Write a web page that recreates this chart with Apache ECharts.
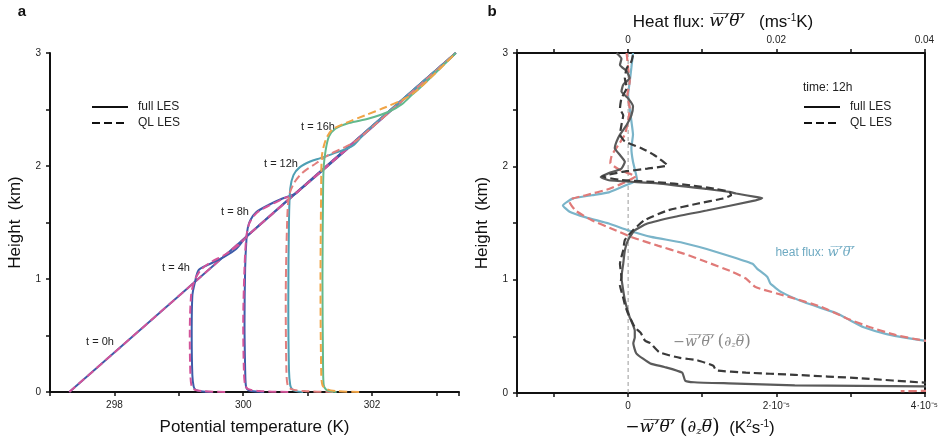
<!DOCTYPE html>
<html><head><meta charset="utf-8">
<script src="https://cdn.jsdelivr.net/npm/echarts@6/dist/echarts.min.js"></script>
<style>html,body{margin:0;padding:0;background:#fff}#c{width:941px;height:441px}</style>
</head><body><div id="c"></div>
<script>
// ---------- Panel a: potential temperature profiles [theta (K), height (km)] ----------
const profile0h = [[297.3,0],[303.3,3]];
const full4h = [[299.52,0],[299.34,0.006],[299.26,0.02],[299.23,0.05],[299.21,0.15],[299.2,0.5],[299.21,0.85],[299.25,0.97],[299.31,1.08],[299.47,1.13],[299.68,1.19],[299.88,1.26],[300.06,1.38],[303.3,3]];
const ql4h   = [[299.72,0],[299.4,0.006],[299.25,0.02],[299.2,0.05],[299.18,0.15],[299.17,0.5],[299.19,0.85],[299.24,0.98],[299.34,1.08],[299.5,1.15],[299.7,1.21],[299.93,1.3],[300.1,1.4],[303.3,3]];
const full8h = [[300.32,0],[300.12,0.008],[300.06,0.025],[300.04,0.06],[300.03,0.2],[300.02,0.6],[300.03,1.1],[300.05,1.35],[300.07,1.45],[300.11,1.52],[300.2,1.59],[300.4,1.657],[300.6,1.71],[300.82,1.76],[303.3,3]];
const ql8h   = [[300.7,0],[300.25,0.008],[300.08,0.025],[300.03,0.06],[300.01,0.2],[300.0,0.6],[300.02,1.1],[300.05,1.38],[300.1,1.5],[300.22,1.59],[300.42,1.655],[300.62,1.71],[300.84,1.77],[303.3,3]];
const full12h = [[300.93,0],[300.82,0.008],[300.76,0.025],[300.73,0.06],[300.71,0.2],[300.7,0.8],[300.71,1.5],[300.73,1.8],[300.78,1.92],[300.88,1.99],[301.04,2.04],[301.2,2.07],[301.45,2.12],[301.7,2.18],[301.9,2.3],[303.3,3]];
const ql12h   = [[301.4,0],[300.95,0.008],[300.75,0.025],[300.69,0.06],[300.67,0.2],[300.66,0.8],[300.68,1.47],[300.71,1.73],[300.79,1.85],[300.92,1.94],[301.12,2.02],[301.33,2.1],[301.59,2.17],[301.79,2.24],[303.3,3]];
const full16h = [[301.45,0],[301.33,0.008],[301.28,0.025],[301.25,0.06],[301.24,0.2],[301.23,1.0],[301.24,1.8],[301.25,2.0],[301.28,2.14],[301.33,2.26],[301.43,2.33],[301.64,2.38],[301.95,2.42],[302.26,2.48],[302.47,2.55],[302.62,2.63],[302.76,2.7],[303.3,3]];
const ql16h   = [[301.8,0],[301.45,0.008],[301.3,0.025],[301.23,0.06],[301.21,0.2],[301.2,1.0],[301.21,1.8],[301.22,2.08],[301.28,2.23],[301.38,2.32],[301.59,2.38],[301.9,2.45],[302.21,2.52],[302.52,2.6],[302.72,2.68],[303.3,3]];
const timeLabels = ['t = 0h','t = 4h','t = 8h','t = 12h','t = 16h'];

// ---------- Panel b: heat flux [w'theta' (m s^-1 K), height (km)] ----------
const heatFluxFull = [[0.00066,3.0],[0.00044,2.87],[0.00022,2.75],[0,2.63],[0.00022,2.51],[0.00044,2.40],[0.00066,2.28],[0.00044,2.16],[0.00066,2.04],[0.0011,1.92],[0.0012,1.88],[-0.0004,1.83],[-0.0026,1.77],[-0.0049,1.745],[-0.0075,1.715],[-0.0088,1.655],[-0.0079,1.60],[-0.0057,1.55],[-0.0026,1.495],[0,1.436],[0.0031,1.377],[0.0071,1.33],[0.0106,1.27],[0.0141,1.20],[0.0168,1.14],[0.0174,1.098],[0.0188,1.024],[0.0192,0.966],[0.0207,0.89],[0.0238,0.80],[0.0283,0.70],[0.030,0.64],[0.0318,0.58],[0.0349,0.52],[0.0397,0.465],[0.046,0.42],[0.055,0.3]];
const heatFluxQL = [[-0.0002,3.0],[0,2.87],[0.00022,2.75],[-0.0001,2.63],[0.00022,2.51],[0,2.40],[-0.00044,2.28],[-0.0013,2.19],[-0.0022,2.10],[-0.0024,2.03],[-0.0009,1.96],[0.001,1.912],[-0.0004,1.86],[-0.0026,1.80],[-0.0057,1.745],[-0.0075,1.715],[-0.0079,1.686],[-0.0071,1.61],[-0.0049,1.524],[-0.0022,1.45],[0.0004,1.377],[0.004,1.30],[0.0075,1.23],[0.0106,1.156],[0.0141,1.068],[0.0159,1.01],[0.0172,0.935],[0.0216,0.85],[0.0261,0.76],[0.0296,0.656],[0.0327,0.58],[0.0362,0.51],[0.0397,0.465],[0.048,0.4],[0.062,0.25],[0.06,0.06],[0.04,0.019],[0.0368,0.016]];
// budget term -w'theta'(dz theta), in units of 1e-5 K^2 s^-1
const budgetFull_e5 = [[-0.155,3.0],[-0.09,2.95],[-0.11,2.895],[-0.02,2.84],[0.02,2.78],[-0.066,2.72],[-0.09,2.66],[0,2.60],[0.066,2.53],[0.044,2.45],[-0.02,2.365],[-0.11,2.28],[-0.155,2.22],[-0.18,2.16],[-0.11,2.10],[-0.044,2.04],[-0.09,1.98],[-0.26,1.94],[-0.37,1.905],[-0.26,1.877],[0.40,1.85],[1.06,1.80],[1.37,1.774],[1.46,1.76],[1.72,1.73],[1.81,1.72],[1.72,1.70],[1.06,1.61],[0.62,1.553],[0.26,1.495],[0.09,1.436],[0,1.35],[-0.044,1.26],[-0.066,1.14],[-0.09,1.02],[-0.08,0.965],[-0.044,0.82],[0.02,0.67],[0.04,0.64],[0.09,0.55],[0.09,0.49],[0.07,0.44],[0.11,0.35],[0.30,0.26],[0.49,0.23],[0.73,0.18],[0.77,0.11],[0.89,0.095],[1.36,0.085],[2.25,0.068],[4.0,0.058],[5.5,0.05]];
const budgetQL_e5 = [[0.066,2.98],[0.044,2.925],[-0.02,2.865],[-0.044,2.78],[-0.02,2.69],[-0.09,2.60],[-0.11,2.51],[-0.066,2.45],[-0.09,2.365],[-0.11,2.28],[-0.044,2.22],[0.18,2.16],[0.35,2.10],[0.53,2.01],[0.26,1.98],[-0.09,1.95],[-0.35,1.91],[-0.09,1.88],[0.40,1.86],[0.84,1.833],[1.19,1.80],[1.37,1.774],[1.39,1.745],[1.28,1.716],[0.93,1.67],[0.53,1.61],[0.22,1.524],[0.066,1.436],[-0.044,1.35],[-0.066,1.26],[-0.11,1.14],[-0.09,1.02],[-0.11,0.95],[-0.07,0.85],[-0.044,0.78],[0,0.7],[0.09,0.58],[0.17,0.53],[0.23,0.46],[0.30,0.44],[0.42,0.36],[0.70,0.31],[0.93,0.29],[1.15,0.24],[1.19,0.20],[1.59,0.18],[2.25,0.16],[3.14,0.13],[4.0,0.092],[5.5,0.08]];
const zeroLine = [[0,0],[0,3]];

const SANS = 'Liberation Sans, Arial, sans-serif';
const SERIF = 'DejaVu Serif, serif';
const OL = '\u0305';
const wtheta = 'w' + OL + '\u2019' + OL + '\u03b8' + OL + '\u2019' + OL;

const chart = echarts.init(document.getElementById('c'), null, {renderer: 'canvas'});

function line(name, data, color, dashed, xi, yi, smooth, w) {
  return {
    type: 'line', name: name, data: data, xAxisIndex: xi, yAxisIndex: yi,
    showSymbol: false, symbol: 'none', smooth: smooth, clip: true, silent: true,
    lineStyle: {color: color, width: w || 2, type: dashed ? [8, 4] : 'solid'},
    itemStyle: {color: color}
  };
}
const e5 = arr => arr.map(p => [p[0] * 1e-5, p[1]]);

const axisLine = {show: true, onZero: false, lineStyle: {color: '#111', width: 2}};
const tick = {show: true, inside: false, length: 4, lineStyle: {color: '#111', width: 1.5}};
const lbl = {color: '#222', fontSize: 10, fontFamily: SANS};

const cBlue = '#3d5ba9', cMag = '#d2549a', cTeal = '#4e9fb4', cSal = '#e27f7e', cGreen = '#63b98d', cOra = '#f0a446';

const legendBase = {orient: 'vertical', padding: 0, itemWidth: 36, itemHeight: 14, itemGap: 4,
  selectedMode: false, data: ['full LES', 'QL LES'], itemStyle: {opacity: 0, borderWidth: 0},
  textStyle: {fontSize: 12, fontFamily: SANS, color: '#222', padding: [0, 0, 0, 5]}};

const option = {
  animation: false,
  backgroundColor: '#fff',
  grid: [
    {left: 50, top: 53, width: 409, height: 340},
    {left: 517, top: 53, width: 415, height: 340}
  ],
  xAxis: [
    {gridIndex: 0, type: 'value', min: 297, max: 303.35, interval: 1, position: 'bottom',
     axisLine: axisLine, axisTick: tick, splitLine: {show: false},
     axisLabel: Object.assign({}, lbl, {margin: 8, formatter: v => (Math.abs(v - Math.round(v)) < 1e-6 && Math.round(v) % 2 === 0) ? String(Math.round(v)) : ''}),
     name: 'Potential temperature (K)', nameLocation: 'middle', nameGap: 27,
     nameTextStyle: {fontSize: 17, fontFamily: SANS, color: '#111'}},
    {gridIndex: 1, type: 'value', min: -1.5e-5, max: 4e-5, minInterval: 1e-5, maxInterval: 1e-5, position: 'bottom',
     axisLine: axisLine, axisTick: tick, splitLine: {show: false},
     axisLabel: Object.assign({}, lbl, {margin: 8, formatter: v => {
        const k = Math.round(v / 1e-5);
        if (Math.abs(v - k * 1e-5) > 1e-9 || k % 2 !== 0) return '';
        return k === 0 ? '0' : k + '\u00b710\u207b\u2075';
     }})},
    {gridIndex: 1, type: 'value', min: -0.015, max: 0.04, minInterval: 0.01, maxInterval: 0.01, position: 'top',
     axisLine: axisLine, axisTick: tick, splitLine: {show: false},
     axisLabel: Object.assign({}, lbl, {margin: 8, formatter: v => {
        const k = Math.round(v / 0.01);
        if (Math.abs(v - k * 0.01) > 1e-9 || k % 2 !== 0) return '';
        return k === 0 ? '0' : (k * 0.01).toFixed(2);
     }})}
  ],
  yAxis: [
    {gridIndex: 0, type: 'value', min: 0, max: 3, interval: 0.5, position: 'left',
     axisLine: axisLine, axisTick: tick, splitLine: {show: false},
     axisLabel: Object.assign({}, lbl, {margin: 9, formatter: v => Number.isInteger(v) ? String(v) : ''}),
     name: 'Height  (km)', nameLocation: 'middle', nameGap: 26,
     nameTextStyle: {fontSize: 17, fontFamily: SANS, color: '#111'}},
    {gridIndex: 1, type: 'value', min: 0, max: 3, interval: 0.5, position: 'left',
     axisLine: axisLine, axisTick: tick, splitLine: {show: false},
     axisLabel: Object.assign({}, lbl, {margin: 9, formatter: v => Number.isInteger(v) ? String(v) : ''}),
     name: 'Height  (km)', nameLocation: 'middle', nameGap: 26,
     nameTextStyle: {fontSize: 17, fontFamily: SANS, color: '#111'}},
    {gridIndex: 1, type: 'value', min: 0, max: 3, position: 'right',
     axisLine: axisLine, axisTick: {show: false}, axisLabel: {show: false}, splitLine: {show: false}}
  ],
  legend: [
    Object.assign({}, legendBase, {left: 91, top: 101}),
    Object.assign({}, legendBase, {left: 803, top: 101})
  ],
  series: [
    // legend keys
    line('full LES', [], '#111', false, 0, 0, false, 3),
    line('QL LES', [], '#111', true, 0, 0, false, 3),
    // panel a
    line('0h full', profile0h, cBlue, false, 0, 0, false),
    line('0h QL', profile0h, cMag, true, 0, 0, false),
    line('4h full', full4h, cBlue, false, 0, 0, 0.3),
    line('4h QL', ql4h, cMag, true, 0, 0, 0.3),
    line('8h full', full8h, cBlue, false, 0, 0, 0.3),
    line('8h QL', ql8h, cMag, true, 0, 0, 0.3),
    line('12h full', full12h, cTeal, false, 0, 0, 0.3),
    line('12h QL', ql12h, cSal, true, 0, 0, 0.3),
    line('16h full', full16h, cGreen, false, 0, 0, 0.3),
    line('16h QL', ql16h, cOra, true, 0, 0, 0.3),
    // panel b
    Object.assign(line('zero', zeroLine, '#9a9a9a', false, 1, 1, false, 1), {lineStyle: {color: '#9a9a9a', width: 1, type: [4, 3]}}),
    line('hf full', heatFluxFull, '#7ab4c9', false, 2, 1, 0.15, 2.2),
    line('hf QL', heatFluxQL, '#e07a78', true, 2, 1, 0.15, 2.2),
    line('budget full', e5(budgetFull_e5), '#5a5a5a', false, 1, 1, 0.15, 2.2),
    line('budget QL', e5(budgetQL_e5), '#3a3a3a', true, 1, 1, 0.15, 2.2)
  ],
  graphic: [
    {type: 'text', x: 22, y: 12, style: {text: 'a', font: 'bold 15px ' + SANS, fill: '#111', align: 'center', verticalAlign: 'middle'}},
    {type: 'text', x: 492, y: 12, style: {text: 'b', font: 'bold 15px ' + SANS, fill: '#111', align: 'center', verticalAlign: 'middle'}},
    {type: 'text', x: 100, y: 342, style: {text: timeLabels[0], font: '11px ' + SANS, fill: '#222', align: 'center', verticalAlign: 'middle'}},
    {type: 'text', x: 176, y: 268, style: {text: timeLabels[1], font: '11px ' + SANS, fill: '#222', align: 'center', verticalAlign: 'middle'}},
    {type: 'text', x: 235, y: 212, style: {text: timeLabels[2], font: '11px ' + SANS, fill: '#222', align: 'center', verticalAlign: 'middle'}},
    {type: 'text', x: 281, y: 164, style: {text: timeLabels[3], font: '11px ' + SANS, fill: '#222', align: 'center', verticalAlign: 'middle'}},
    {type: 'text', x: 318, y: 127, style: {text: timeLabels[4], font: '11px ' + SANS, fill: '#222', align: 'center', verticalAlign: 'middle'}},
    {type: 'text', x: 803, y: 88, style: {text: 'time: 12h', font: '12px ' + SANS, fill: '#222', align: 'left', verticalAlign: 'middle'}},
    {type: 'text', x: 723, y: 22, style: {
      text: 'Heat flux: {m|' + wtheta + '}   (ms{s|-1}K)', font: '17px ' + SANS, fill: '#111', align: 'center', verticalAlign: 'middle',
      rich: {m: {fontFamily: SERIF, fontStyle: 'italic', fontSize: 17, fill: '#111'}, s: {fontSize: 10, fill: '#111', padding: [0, 0, 8, 0]}}}},
    {type: 'text', x: 700, y: 428, style: {
      text: '{m|\u2212' + wtheta + '} {b|(}{m|\u2202}{z|z}{m|\u03b8' + OL + '}{b|)}  (K{s|2}s{s|-1})', font: '17px ' + SANS, fill: '#111', align: 'center', verticalAlign: 'middle',
      rich: {m: {fontFamily: SERIF, fontStyle: 'italic', fontSize: 17, fill: '#111'}, b: {fontFamily: SERIF, fontSize: 20, fill: '#111'},
             z: {fontFamily: SERIF, fontStyle: 'italic', fontSize: 10, fill: '#111', padding: [6, 0, 0, 0]},
             s: {fontSize: 10, fill: '#111', padding: [0, 0, 8, 0]}}}},
    {type: 'text', x: 815, y: 253, style: {
      text: 'heat flux: {m|' + wtheta + '}', font: '12px ' + SANS, fill: '#6eaac2', align: 'center', verticalAlign: 'middle',
      rich: {m: {fontFamily: SERIF, fontStyle: 'italic', fontSize: 13, fill: '#6eaac2'}}}},
    {type: 'text', x: 712, y: 342, style: {
      text: '{m|\u2212' + wtheta + '} {b|(}{m|\u2202}{z|z}{m|\u03b8' + OL + '}{b|)}', fill: '#888', align: 'center', verticalAlign: 'middle',
      rich: {m: {fontFamily: SERIF, fontStyle: 'italic', fontSize: 14, fill: '#888'}, b: {fontFamily: SERIF, fontSize: 17, fill: '#888'},
             z: {fontFamily: SERIF, fontStyle: 'italic', fontSize: 8, fill: '#888', padding: [5, 0, 0, 0]}}}}
  ]
};
chart.setOption(option);
</script>
</body></html>
